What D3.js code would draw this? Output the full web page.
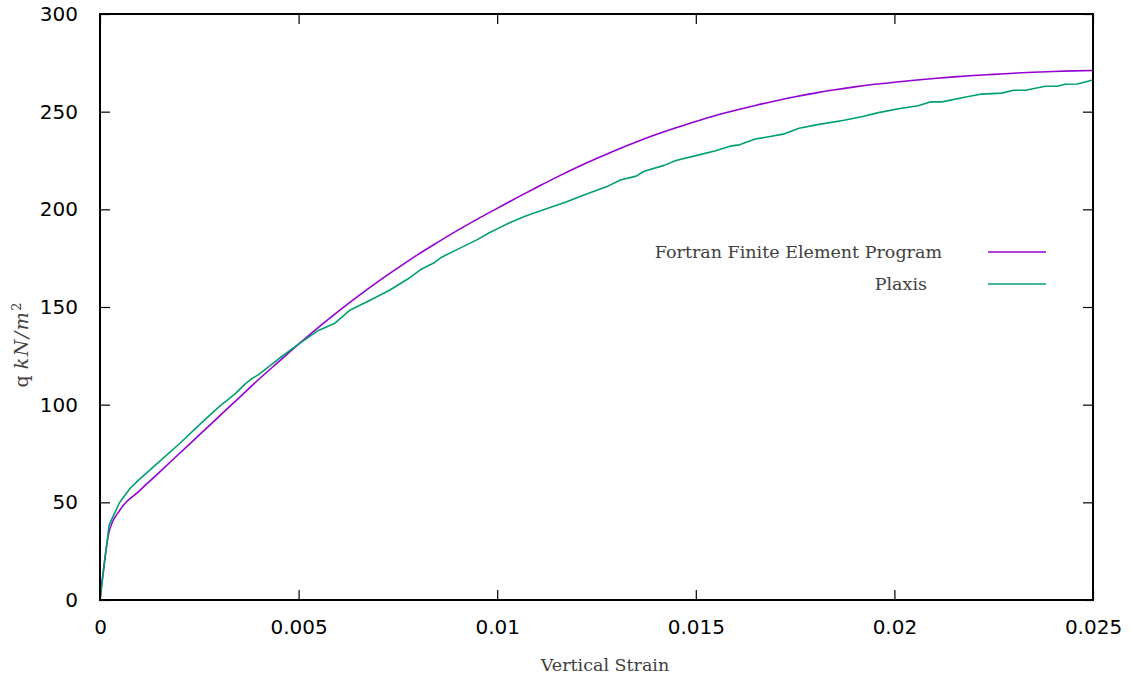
<!DOCTYPE html>
<html>
<head>
<meta charset="utf-8">
<script src="https://cdn.jsdelivr.net/npm/d3@7"></script>
<style>
  body { margin: 0; background: #fff; }
  svg { display: block; }
</style>
</head>
<body>
<div id="grafico"></div>
<script>
// datos
const xTicks = [0, 0.005, 0.01, 0.015, 0.02, 0.025];
const xTickLabels = ["0", "0.005", "0.01", "0.015", "0.02", "0.025"];
const yTicks = [0, 50, 100, 150, 200, 250, 300];

const seriesNames = ["Fortran Finite Element Program", "Plaxis"];
const seriesColors = ["#9400d3", "#009e73"];

// Fortran: [strain, q]
const fortranStrain = [0, 0.00023, 0.0005, 0.001, 0.0015, 0.002, 0.0025, 0.003, 0.0035, 0.004,
  0.0045, 0.005, 0.0055, 0.006, 0.0065, 0.007, 0.0075, 0.008, 0.0085, 0.009,
  0.0095, 0.010, 0.0105, 0.011, 0.0115, 0.012, 0.0125, 0.013, 0.0135, 0.014,
  0.0145, 0.015, 0.0155, 0.016, 0.0165, 0.017, 0.0175, 0.018, 0.0185, 0.019,
  0.0195, 0.020, 0.0205, 0.021, 0.0215, 0.022, 0.0225, 0.023, 0.0235, 0.024,
  0.0245, 0.025];
const fortranQ = [0, 35, 46, 56, 65.5, 75, 84.5, 94, 103.5, 113,
  122, 131, 139.6, 147.8, 155.6, 163, 170, 176.8, 183.1, 189.2,
  195, 200.5, 206, 211.3, 216.5, 221.4, 226, 230.4, 234.5, 238.3,
  241.8, 245, 248, 250.7, 253.2, 255.5, 257.6, 259.5, 261.2, 262.7,
  264, 265.1, 266.1, 267, 267.8, 268.5, 269.1, 269.7, 270.2, 270.6,
  270.9, 271.1];

// Plaxis: [strain, q]
const plaxisStrain = [0, 0.00023, 0.00049, 0.00076, 0.00097, 0.0015, 0.002, 0.00252, 0.003, 0.0034,
  0.00365, 0.0038, 0.0040, 0.0045, 0.0050, 0.0055, 0.0059, 0.0063, 0.0068, 0.0073,
  0.0078, 0.0081, 0.0084, 0.0086, 0.0090, 0.0095, 0.0098, 0.0100, 0.0103, 0.0107,
  0.0112, 0.0117, 0.0122, 0.0128, 0.0131, 0.0135, 0.0137, 0.0142, 0.0145, 0.0150,
  0.0155, 0.0159, 0.0161, 0.0165, 0.0168, 0.0172, 0.0176, 0.0181, 0.0187, 0.0192,
  0.0196, 0.0201, 0.0206, 0.0209, 0.0212, 0.0218, 0.0222, 0.0227, 0.0230, 0.0233,
  0.0238, 0.0241, 0.0243, 0.0246, 0.0250];
const plaxisQ = [0, 38.5, 49.8, 57.2, 61.4, 71, 80, 90, 99, 105.5,
  110.5, 113, 115.5, 123.5, 131, 138, 141.5, 148.5, 153.5, 158.7,
  165, 169.5, 172.5, 175.5, 179.5, 184.5, 188, 190, 193, 196.5,
  200, 203.5, 207.5, 212, 215, 217, 219.5, 222.5, 225, 227.5,
  230, 232.5, 233, 236, 237, 238.5, 241.5, 243.5, 245.5, 247.5,
  249.5, 251.5, 253, 255, 255, 257.5, 259, 259.5, 261, 261,
  263, 263, 264, 264.2, 266.2];

const width = 1131, height = 679;
const margin = { top: 14, right: 38, bottom: 79, left: 100 };

const svg = d3.select("#grafico").append("svg")
  .attr("width", width)
  .attr("height", height);

const xScale = d3.scaleLinear().domain([0, 0.025]).range([margin.left, width - margin.right]);
const yScale = d3.scaleLinear().domain([0, 300]).range([height - margin.bottom, margin.top]);

const tickFont = "'DejaVu Sans', Verdana, sans-serif";
const serifFont = "'DejaVu Serif', 'Liberation Serif', serif";

// ejes con ticks hacia dentro
const xAxisBottom = d3.axisBottom(xScale).tickValues(xTicks)
  .tickFormat((d, i) => xTickLabels[i]).tickSizeInner(-10).tickSizeOuter(0).tickPadding(20);
const xAxisTop = d3.axisTop(xScale).tickValues(xTicks).tickFormat("").tickSizeInner(-10).tickSizeOuter(0);
const yAxisLeft = d3.axisLeft(yScale).tickValues(yTicks).tickSizeInner(-10).tickSizeOuter(0).tickPadding(22);
const yAxisRight = d3.axisRight(yScale).tickValues(yTicks).tickFormat("").tickSizeInner(-10).tickSizeOuter(0);

function estilo(g) {
  g.select(".domain").remove();
  g.selectAll("line").attr("stroke", "#000").attr("stroke-width", 1.2);
  g.selectAll("text").attr("font-family", tickFont).attr("font-size", 20).attr("fill", "#000");
}

svg.append("g").attr("transform", `translate(0, ${yScale(0)})`).call(xAxisBottom).call(estilo);
svg.append("g").attr("transform", `translate(0, ${yScale(300)})`).call(xAxisTop).call(estilo);
svg.append("g").attr("transform", `translate(${xScale(0)}, 0)`).call(yAxisLeft).call(estilo);
svg.append("g").attr("transform", `translate(${xScale(0.025)}, 0)`).call(yAxisRight).call(estilo);

// curvas
const lineaSuave = d3.line().x(d => xScale(d[0])).y(d => yScale(d[1])).curve(d3.curveMonotoneX);
const lineaRecta = d3.line().x(d => xScale(d[0])).y(d => yScale(d[1]));
const fortran = fortranStrain.map((s, i) => [s, fortranQ[i]]);
const plaxis = plaxisStrain.map((s, i) => [s, plaxisQ[i]]);

[[fortran, lineaSuave], [plaxis, lineaRecta]].forEach(([datos, linea], i) => {
  svg.append("path")
    .datum(datos)
    .attr("d", linea)
    .attr("fill", "none")
    .attr("stroke", seriesColors[i])
    .attr("stroke-width", 1.6)
    .attr("stroke-linejoin", "round");
});

// marco
svg.append("rect")
  .attr("x", xScale(0)).attr("y", yScale(300))
  .attr("width", xScale(0.025) - xScale(0))
  .attr("height", yScale(0) - yScale(300))
  .attr("fill", "none").attr("stroke", "#000").attr("stroke-width", 2);

// leyenda
const leyenda = svg.append("g");
const finTexto = [942, 927];
seriesNames.forEach((nombre, i) => {
  const y = 252 + i * 32;
  leyenda.append("text")
    .attr("x", finTexto[i]).attr("y", y + 6)
    .attr("text-anchor", "end")
    .attr("font-family", serifFont).attr("font-size", 17.5)
    .attr("fill", "#404040")
    .text(nombre);
  leyenda.append("line")
    .attr("x1", 988).attr("x2", 1046)
    .attr("y1", y).attr("y2", y)
    .attr("stroke", seriesColors[i]).attr("stroke-width", 1.6);
});

// titulos de ejes
svg.append("text")
  .attr("x", 605).attr("y", 671)
  .attr("text-anchor", "middle")
  .attr("font-family", serifFont).attr("font-size", 17.5)
  .attr("fill", "#404040")
  .text("Vertical Strain");

const yLabel = svg.append("text")
  .attr("transform", "translate(28, 345) rotate(-90)")
  .attr("text-anchor", "middle")
  .attr("font-family", serifFont).attr("font-size", 19)
  .attr("fill", "#404040");
yLabel.append("tspan").text("q ");
yLabel.append("tspan").attr("font-style", "italic").attr("letter-spacing", 1.5).text("kN/m");
yLabel.append("tspan").attr("font-size", 13).attr("dy", -7).text("2");
</script>
</body>
</html>
